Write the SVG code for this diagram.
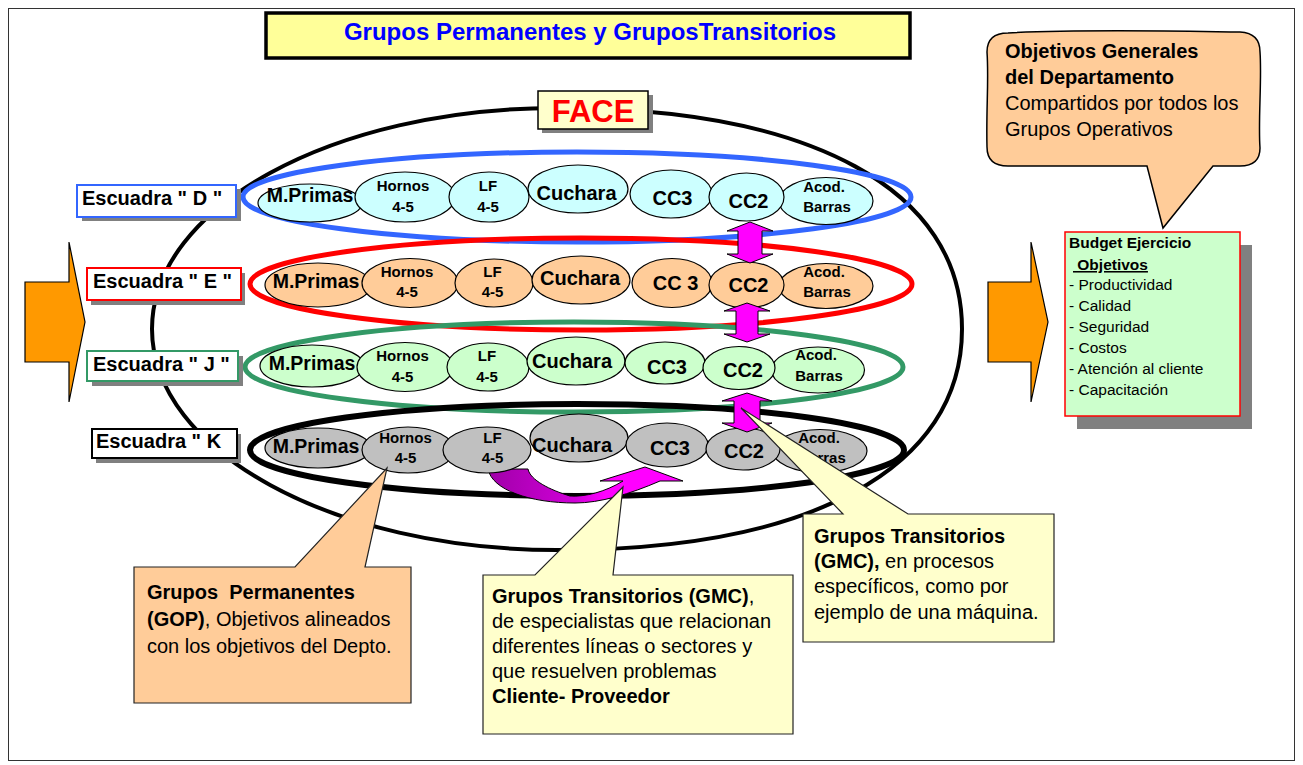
<svg xmlns="http://www.w3.org/2000/svg" width="1303" height="765" viewBox="0 0 1303 765">
<style>
text { font-family: "Liberation Sans", Arial, sans-serif; fill:#000; }
.b { font-weight:bold; }
.m { text-anchor:middle; }
.el { stroke:#000; stroke-width:1.2; }
.d { fill:#CCFFFF; } .e { fill:#FFCC99; } .j { fill:#CCFFCC; } .k { fill:#C0C0C0; }
.s15 { font-size:15px; font-weight:bold; text-anchor:middle; }
.s20 { font-size:20px; font-weight:bold; text-anchor:middle; }
.lab { font-size:20px; font-weight:bold; }
.shadow { fill:#808080; }
.call { font-size:20px; }
.bud { font-size:15.5px; }
.mag { fill:#FF00FF; stroke:#000; stroke-width:1; }
.ring { fill:none; }
</style>
<defs>
<linearGradient id="cg" x1="0" y1="0" x2="1" y2="0">
<stop offset="0" stop-color="#A000A8"/>
<stop offset="0.45" stop-color="#D000D8"/>
<stop offset="0.6" stop-color="#FF00FF"/>
<stop offset="1" stop-color="#FF00FF"/>
</linearGradient>
</defs>
<rect x="0" y="0" width="1303" height="765" fill="#FFFFFF"/>
<rect x="8.5" y="8.5" width="1286" height="752" fill="none" stroke="#333" stroke-width="1"/>

<g id="title">
<rect x="266" y="13" width="644" height="45" fill="#FFFF99" stroke="#000" stroke-width="3.5"/>
<text x="590" y="40" class="b m" style="font-size:24px;fill:#0000FF">Grupos Permanentes y GruposTransitorios</text>
</g>

<g id="face-ellipse">
<path d="M557,108 C812,108 962,190 962,329 C962,468 812,550 557,550 C333,550 152,451 152,329 C152,207 333,108 557,108 Z" fill="none" stroke="#000" stroke-width="4"/>
</g>

<g id="face-label">
<rect x="542" y="95" width="111" height="38" class="shadow"/>
<rect x="538" y="91" width="110" height="38" fill="#FFFFCC" stroke="#000" stroke-width="1.5"/>
<text x="593" y="122" class="b m" style="font-size:31px;fill:#FF0000">FACE</text>
</g>

<g id="rings">
<ellipse cx="577" cy="197" rx="334" ry="45" class="ring" stroke="#3366FF" stroke-width="5"/>
<ellipse cx="581" cy="284" rx="331" ry="46" class="ring" stroke="#FF0000" stroke-width="5"/>
<ellipse cx="574" cy="367" rx="329" ry="45" class="ring" stroke="#339966" stroke-width="5"/>
<ellipse cx="577" cy="450" rx="327" ry="46" class="ring" stroke="#000000" stroke-width="6"/>
</g>

<g id="curved-arrow">
<path d="M488,469 C492,490 530,503 575,503 C600,503 630,494 660,481 L683,481 L645,467 L600,481 L623,481 C605,492 585,497 570,496 C550,490 530,480 528,469 Z" fill="url(#cg)" stroke="#000" stroke-width="1"/>
</g>

<g id="row-D">
<ellipse cx="310" cy="203" rx="52" ry="19" class="el d"/>
<ellipse cx="405" cy="197" rx="50" ry="25" class="el d"/>
<ellipse cx="489" cy="197" rx="40" ry="25" class="el d"/>
<ellipse cx="578" cy="189" rx="50" ry="24" class="el d"/>
<ellipse cx="671" cy="194" rx="41" ry="24" class="el d"/>
<ellipse cx="826" cy="201" rx="47" ry="23.5" class="el d"/>
<ellipse cx="746.5" cy="197" rx="37.5" ry="24" class="el d"/>
<text x="310" y="202" class="s20" style="font-size:19.5px">M.Primas</text>
<text x="403" y="191" class="s15">Hornos</text>
<text x="403" y="212" class="s15">4-5</text>
<text x="488" y="191" class="s15">LF</text>
<text x="488" y="212" class="s15">4-5</text>
<text x="576.5" y="200" class="s20">Cuchara</text>
<text x="672.5" y="205" class="s20">CC3</text>
<text x="748.5" y="208" class="s20">CC2</text>
<text x="824" y="192" class="s15">Acod.</text>
<text x="827" y="212" class="s15">Barras</text>
</g>

<g id="row-E">
<ellipse cx="318" cy="285" rx="53" ry="22" class="el e"/>
<ellipse cx="410" cy="283" rx="48" ry="24.5" class="el e"/>
<ellipse cx="494" cy="283" rx="39" ry="24" class="el e"/>
<ellipse cx="581" cy="280" rx="49" ry="24" class="el e"/>
<ellipse cx="672" cy="283" rx="40" ry="24.5" class="el e"/>
<ellipse cx="826" cy="286" rx="47" ry="22.5" class="el e"/>
<ellipse cx="746.5" cy="285" rx="37.5" ry="23" class="el e"/>
<text x="316" y="288" class="s20" style="font-size:19.5px">M.Primas</text>
<text x="407" y="277" class="s15">Hornos</text>
<text x="407" y="297" class="s15">4-5</text>
<text x="492.5" y="277" class="s15">LF</text>
<text x="492.5" y="297" class="s15">4-5</text>
<text x="580" y="285" class="s20">Cuchara</text>
<text x="675.5" y="290" class="s20">CC 3</text>
<text x="748.5" y="292" class="s20">CC2</text>
<text x="824" y="277" class="s15">Acod.</text>
<text x="827" y="297" class="s15">Barras</text>
</g>

<g id="row-J">
<ellipse cx="312" cy="366" rx="52" ry="21" class="el j"/>
<ellipse cx="405" cy="367" rx="48" ry="24.5" class="el j"/>
<ellipse cx="488" cy="367" rx="41" ry="24" class="el j"/>
<ellipse cx="576" cy="361" rx="49" ry="24" class="el j"/>
<ellipse cx="665" cy="363" rx="40" ry="21" class="el j"/>
<ellipse cx="818" cy="370" rx="46.5" ry="23" class="el j"/>
<ellipse cx="739" cy="368" rx="36" ry="21.5" class="el j"/>
<text x="312" y="370" class="s20" style="font-size:19.5px">M.Primas</text>
<text x="402.5" y="361" class="s15">Hornos</text>
<text x="402.5" y="382" class="s15">4-5</text>
<text x="487" y="361" class="s15">LF</text>
<text x="487" y="382" class="s15">4-5</text>
<text x="572" y="368" class="s20">Cuchara</text>
<text x="667" y="374" class="s20">CC3</text>
<text x="743" y="377" class="s20">CC2</text>
<text x="816" y="360" class="s15">Acod.</text>
<text x="819" y="381" class="s15">Barras</text>
</g>

<g id="row-K">
<ellipse cx="318" cy="448" rx="53" ry="20" class="el k"/>
<ellipse cx="408" cy="450" rx="46" ry="23" class="el k"/>
<ellipse cx="487" cy="450" rx="44" ry="23" class="el k"/>
<ellipse cx="579" cy="438" rx="49" ry="24" class="el k"/>
<ellipse cx="667" cy="445" rx="41" ry="22" class="el k"/>
<ellipse cx="820" cy="451" rx="47" ry="21.5" class="el k"/>
<ellipse cx="743" cy="449" rx="37" ry="21" class="el k"/>
<text x="316" y="453" class="s20" style="font-size:19.5px">M.Primas</text>
<text x="405.5" y="443" class="s15">Hornos</text>
<text x="405.5" y="463" class="s15">4-5</text>
<text x="492.5" y="443" class="s15">LF</text>
<text x="492.5" y="463" class="s15">4-5</text>
<text x="572" y="452" class="s20">Cuchara</text>
<text x="670" y="455" class="s20">CC3</text>
<text x="744" y="458" class="s20">CC2</text>
<text x="819" y="443" class="s15">Acod.</text>
<text x="822" y="463" class="s15">Barras</text>
</g>

<g id="connectors">
<path class="mag" d="M750,222 L773,231 L762,231 L762,254 L773,254 L750,263 L727,254 L738,254 L738,231 L727,231 Z"/>
<path class="mag" d="M747,303 L770,311 L758,311 L758,334 L770,334 L747,342 L724,334 L736,334 L736,311 L724,311 Z"/>
<path class="mag" d="M747,393 L772,401 L760,401 L760,423 L772,423 L747,432 L722,423 L734,423 L734,401 L722,401 Z"/>
</g>

<g id="label-D">
<rect x="82" y="189" width="159" height="32" class="shadow"/>
<rect x="77" y="185" width="159" height="32" fill="#FFFFFF" stroke="#3366FF" stroke-width="2"/>
<text x="82" y="205" class="lab">Escuadra " D "</text>
</g>
<g id="label-E">
<rect x="91" y="273" width="154" height="32" class="shadow"/>
<rect x="87" y="268" width="154" height="32" fill="#FFFFFF" stroke="#FF0000" stroke-width="2"/>
<text x="93" y="288" class="lab">Escuadra " E "</text>
</g>
<g id="label-J">
<rect x="92" y="356" width="151" height="30" class="shadow"/>
<rect x="87" y="351" width="151" height="30" fill="#FFFFFF" stroke="#339966" stroke-width="2"/>
<text x="93" y="371" class="lab">Escuadra " J "</text>
</g>
<g id="label-K">
<rect x="96" y="434" width="145" height="29" class="shadow"/>
<rect x="92" y="429" width="145" height="29" fill="#FFFFFF" stroke="#000" stroke-width="2"/>
<text x="96" y="448" class="lab">Escuadra " K</text>
</g>

<g id="arrow-left">
<path d="M25,282 L69,282 L69,242 L85,322 L69,402 L69,362 L25,362 Z" fill="#FF9900" stroke="#000" stroke-width="1.2"/>
</g>
<g id="arrow-right">
<path d="M988,282 L1031,282 L1031,242 L1048,322 L1031,402 L1031,362 L988,362 Z" fill="#FF9900" stroke="#000" stroke-width="1.2"/>
</g>

<g id="callout-objetivos">
<path d="M1008,33 C1080,29 1170,31 1240,32 Q1260,33 1260,52 C1262,80 1258,120 1260,148 Q1260,166 1240,166 L1213,166 L1163,228 L1147,166 L1008,166 Q987,166 987,147 C986,110 989,80 987,52 Q987,33 1008,33 Z" fill="#FFCC99" stroke="#000" stroke-width="1.5"/>
<text x="1005" y="58" class="call b">Objetivos Generales</text>
<text x="1005" y="84" class="call b">del Departamento</text>
<text x="1005" y="110" class="call">Compartidos por todos los</text>
<text x="1005" y="136" class="call">Grupos Operativos</text>
</g>

<g id="budget">
<rect x="1077" y="245" width="175" height="184" class="shadow"/>
<rect x="1065" y="232" width="175" height="184" fill="#CCFFCC" stroke="#FF0000" stroke-width="1.5"/>
<text x="1069" y="248" class="bud b">Budget Ejercicio</text>
<text x="1073" y="270" class="bud b" xml:space="preserve" style="text-decoration:underline"> Objetivos</text>
<text x="1069" y="290" class="bud">- Productividad</text>
<text x="1069" y="311" class="bud">- Calidad</text>
<text x="1069" y="332" class="bud">- Seguridad</text>
<text x="1069" y="353" class="bud">- Costos</text>
<text x="1069" y="374" class="bud">- Atención al cliente</text>
<text x="1069" y="395" class="bud">- Capacitación</text>
</g>

<g id="callout-gop">
<path d="M134,567 L295,567 L387,468 L365,567 L411,567 L411,703 L134,703 Z" fill="#FFCC99" stroke="#222" stroke-width="1.2"/>
<text x="147" y="599" class="call b" xml:space="preserve">Grupos  Permanentes</text>
<text x="147" y="626" class="call"><tspan class="b">(GOP)</tspan>, Objetivos alineados</text>
<text x="147" y="653" class="call">con los objetivos del Depto.</text>
</g>

<g id="callout-gmc1">
<path d="M483,575 L535,575 L623,487 L613,575 L793,575 L793,734 L483,734 Z" fill="#FFFFCC" stroke="#222" stroke-width="1.2"/>
<text x="492" y="603" class="call"><tspan class="b">Grupos Transitorios (GMC)</tspan>,</text>
<text x="492" y="628" class="call">de especialistas que relacionan</text>
<text x="492" y="653" class="call">diferentes líneas o sectores y</text>
<text x="492" y="678" class="call">que resuelven problemas</text>
<text x="492" y="703" class="call b">Cliente- Proveedor</text>
</g>

<g id="callout-gmc2">
<path d="M803,514 L843,514 L741,408 L908,514 L1054,514 L1054,642 L803,642 Z" fill="#FFFFCC" stroke="#222" stroke-width="1.2"/>
<text x="814" y="543" class="call b">Grupos Transitorios</text>
<text x="814" y="568" class="call"><tspan class="b">(GMC),</tspan> en procesos</text>
<text x="814" y="593" class="call">específicos, como por</text>
<text x="814" y="619" class="call">ejemplo de una máquina.</text>
</g>
</svg>
